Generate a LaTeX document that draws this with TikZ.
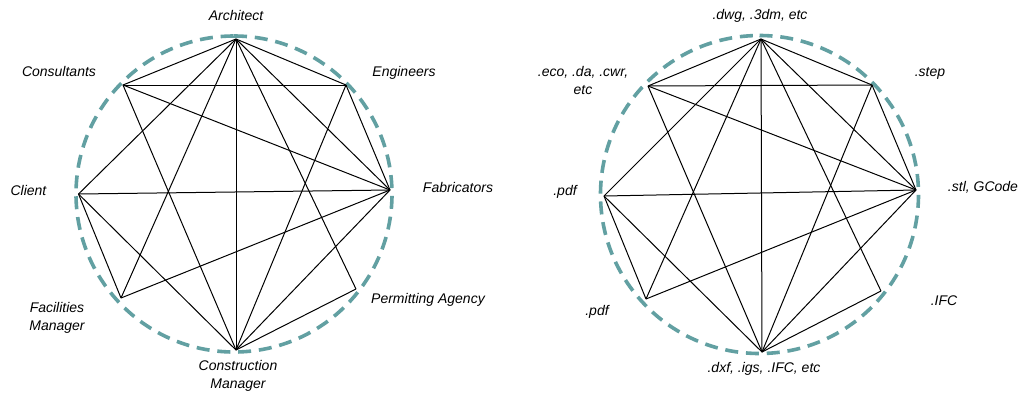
\documentclass[tikz,border=0pt]{standalone}
\usepackage{fontspec}
\setmainfont{Liberation Sans}
\definecolor{ringteal}{RGB}{98,160,162}
\tikzset{
  ring/.style={draw=ringteal, line width=3.6pt, dash pattern=on 13pt off 7.84pt},
  link/.style={draw=black, line width=1pt},
  lbl/.style={font=\fontsize{14}{18}\selectfont\itshape, align=center, inner sep=0pt},
}
\begin{document}
\begin{tikzpicture}[x=1pt,y=-1pt]
\useasboundingbox (0,0) rectangle (1021,392);
\fill[white] (0,0) rectangle (1021,392);
% rings
\draw[ring] (234,36) arc[start angle=90, end angle=-270, radius=158pt];
\draw[ring] (759.5,35.5) arc[start angle=90, end angle=-270, radius=159pt];
% left vertices
\coordinate (LA) at (236,39);
\coordinate (LE) at (346,85);
\coordinate (LF) at (390,190);
\coordinate (LP) at (356,289);
\coordinate (LC) at (236,350);
\coordinate (LM) at (121,298);
\coordinate (LL) at (78.5,194);
\coordinate (LO) at (123,85);
% right vertices
\coordinate (RA) at (761,39);
\coordinate (RE) at (872,85);
\coordinate (RF) at (916,190);
\coordinate (RP) at (881,291);
\coordinate (RC) at (762,352);
\coordinate (RM) at (646,299);
\coordinate (RL) at (604,196);
\coordinate (RO) at (648,86);
% edges
\foreach \s in {L,R}{
  \foreach \a/\b in {A/O,A/E,A/F,A/P,A/C,A/M,A/L,O/E,O/F,O/C,E/F,E/C,F/L,F/M,F/C,P/C,L/M,L/C}{
    \draw[link] (\s\a) -- (\s\b);
  }
}
% left labels
\node[lbl] (tArch) at (236,15) {Architect};
\node[lbl] (tCons) at (59,71) {Consultants};
\node[lbl] (tEng) at (404,73) {Engineers};
\node[lbl] (tCli) at (28.5,190) {Client};
\node[lbl] (tFab) at (458,187) {Fabricators};
\node[lbl] (tFac) at (57,318) {Facilities\\Manager};
\node[lbl] (tPer) at (428,300) {Permitting Agency};
\node[lbl] (tCon) at (238,376) {Construction\\Manager};
% right labels
\node[lbl] (tDwg) at (760,16) {.dwg, .3dm, etc};
\node[lbl] (tEco) at (583,80) {.eco, .da, .cwr,\\etc};
\node[lbl] (tStep) at (930,73) {.step};
\node[lbl] (tStl) at (983,187) {.stl, GCode};
\node[lbl] (tIfc) at (944,301) {.IFC};
\node[lbl] (tPdfB) at (597,312) {.pdf};
\node[lbl] (tPdfA) at (565,192) {.pdf};
\node[lbl] (tDxf) at (764,369) {.dxf, .igs, .IFC, etc};
\end{tikzpicture}
\end{document}
